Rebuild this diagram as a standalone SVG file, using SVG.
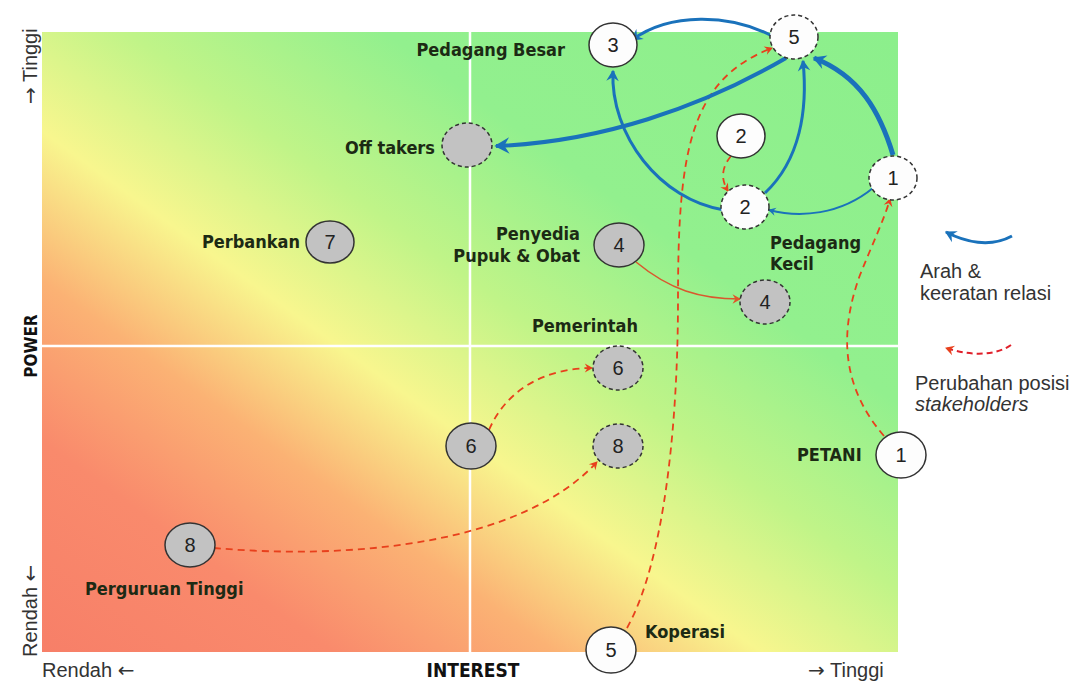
<svg xmlns="http://www.w3.org/2000/svg" width="1075" height="682" viewBox="0 0 1075 682">
<defs>
<linearGradient id="bg" x1="0" y1="1" x2="1" y2="0">
<stop offset="0" stop-color="#f77f68"/>
<stop offset="0.17" stop-color="#f98a6c"/>
<stop offset="0.3" stop-color="#fbb274"/>
<stop offset="0.42" stop-color="#f8f68e"/>
<stop offset="0.55" stop-color="#c0f488"/>
<stop offset="0.7" stop-color="#92f08e"/>
<stop offset="1" stop-color="#8cef8c"/>
</linearGradient>
<marker id="ab" viewBox="0 0 12 12" refX="9" refY="6" markerWidth="5" markerHeight="5" orient="auto" markerUnits="strokeWidth">
<path d="M1,1 L10,6 L1,11 L4,6 Z" fill="#1a72bb"/>
</marker>
<marker id="ab2" viewBox="0 0 12 12" refX="9" refY="6" markerWidth="3.5" markerHeight="3.5" orient="auto" markerUnits="strokeWidth">
<path d="M1,1 L10,6 L1,11 L4,6 Z" fill="#1a72bb"/>
</marker>
<marker id="ar" viewBox="0 0 12 12" refX="9" refY="6" markerWidth="6" markerHeight="6" orient="auto" markerUnits="strokeWidth">
<path d="M1,1 L10,6 L1,11 L4,6 Z" fill="#e8401c"/>
</marker>
<marker id="ao" viewBox="0 0 12 12" refX="9" refY="6" markerWidth="7" markerHeight="7" orient="auto" markerUnits="strokeWidth">
<path d="M1,1 L10,6 L1,11 L4,6 Z" fill="#e0552a"/>
</marker>
</defs>
<style>
.lbl{font-family:"DejaVu Sans Condensed","DejaVu Sans",sans-serif;font-stretch:condensed;font-weight:bold;font-size:18px;fill:#1c2a14}
.num{font-family:"Liberation Sans",Arial,sans-serif;font-size:20px;fill:#222;text-anchor:middle}
.ax{font-family:"Liberation Sans",Arial,sans-serif;font-size:20px;fill:#333}
.lg{font-family:"Liberation Sans",Arial,sans-serif;font-size:20px;fill:#333}
.arr{font-family:"DejaVu Sans",sans-serif}
.axb{font-family:"DejaVu Sans Condensed","DejaVu Sans",sans-serif;font-stretch:condensed;font-weight:bold;fill:#111}
.w{fill:#fdfdfd;stroke:#333;stroke-width:1.5}
.g{fill:#c2c2c2;stroke:#333;stroke-width:1.5}
.d{stroke-dasharray:4 3}
.bl{fill:none;stroke:#1a72bb}
.rd{fill:none;stroke:#e8401c;stroke-width:1.8;stroke-dasharray:7 5}
</style>
<rect x="42" y="32" width="856" height="620" fill="url(#bg)"/>
<line x1="42" y1="346" x2="898" y2="346" stroke="#fff" stroke-width="2.5"/>
<line x1="470" y1="32" x2="470" y2="652" stroke="#fff" stroke-width="2.5"/>

<g id="connectors">
<path class="rd" d="M627,628 C665,560 678,420 678,300 C678,150 690,80 772,48" marker-end="url(#ar)"/>
<path class="rd" d="M731,156 C721,168 721,180 728,191" marker-end="url(#ar)" stroke-width="1.5"/>
<path class="rd" d="M884,436 C840,385 840,330 860,275 C874,240 884,220 890,199" marker-end="url(#ar)"/>
<path d="M636,262 C670,290 700,299 740,299" fill="none" stroke="#d9582e" stroke-width="1.6" marker-end="url(#ao)"/>
<path class="rd" d="M489,430 C508,386 550,368 592,368" marker-end="url(#ar)"/>
<path class="rd" d="M214,548 C350,560 520,545 597,462" marker-end="url(#ar)"/>
<path class="bl" stroke-width="3" d="M772,36 C730,14 670,12 632,40" marker-end="url(#ab)"/>
<path class="bl" stroke-width="4" d="M786,58 C700,108 600,142 496,146" marker-end="url(#ab)"/>
<path class="bl" stroke-width="3" d="M724,210 C660,200 610,135 613,71" marker-end="url(#ab)"/>
<path class="bl" stroke-width="3" d="M765,193 C800,160 808,110 803,61" marker-end="url(#ab)"/>
<path class="bl" stroke-width="5" d="M893,155 C880,112 860,76 814,58" marker-end="url(#ab2)"/>
<path class="bl" stroke-width="2" d="M873,188 C840,215 800,218 769,210" marker-end="url(#ab)"/>
</g>

<g id="n3"><ellipse class="w" cx="613" cy="45" rx="24" ry="22"/><text class="num" x="613" y="52">3</text><text class="lbl" x="565" y="56" text-anchor="end">Pedagang Besar</text></g>
<g id="n5top"><ellipse class="w d" cx="794" cy="37" rx="24" ry="22"/><text class="num" x="794" y="44">5</text></g>
<g id="offtakers"><ellipse class="g d" cx="467" cy="145" rx="25" ry="22"/><text class="lbl" x="435" y="154" text-anchor="end">Off takers</text></g>
<g id="n2a"><ellipse class="w" cx="741" cy="136" rx="24" ry="22"/><text class="num" x="741" y="143">2</text></g>
<g id="n2b"><ellipse class="w d" cx="745" cy="207" rx="24" ry="22"/><text class="num" x="745" y="214">2</text><text class="lbl" x="770" y="249">Pedagang</text><text class="lbl" x="770" y="270">Kecil</text></g>
<g id="n1b"><ellipse class="w d" cx="893" cy="178" rx="24" ry="22"/><text class="num" x="893" y="185">1</text></g>
<g id="n7"><ellipse class="g" cx="330" cy="242" rx="24" ry="21"/><text class="num" x="330" y="249">7</text><text class="lbl" x="300" y="248" text-anchor="end">Perbankan</text></g>
<g id="n4a"><ellipse class="g" cx="619" cy="245" rx="25" ry="22"/><text class="num" x="619" y="252">4</text><text class="lbl" x="580" y="240" text-anchor="end">Penyedia</text><text class="lbl" x="580" y="262" text-anchor="end">Pupuk &amp; Obat</text></g>
<g id="n4b"><ellipse class="g d" cx="765" cy="302" rx="25" ry="22"/><text class="num" x="765" y="309">4</text></g>
<g id="n6b"><ellipse class="g d" cx="618" cy="368" rx="25" ry="22"/><text class="num" x="618" y="375">6</text><text class="lbl" x="585" y="332" text-anchor="middle">Pemerintah</text></g>
<g id="n6a"><ellipse class="g" cx="471" cy="446" rx="25" ry="23"/><text class="num" x="471" y="453">6</text></g>
<g id="n8b"><ellipse class="g d" cx="618" cy="446" rx="25" ry="22"/><text class="num" x="618" y="453">8</text></g>
<g id="n1a"><ellipse class="w" cx="901" cy="455" rx="25" ry="23"/><text class="num" x="901" y="462">1</text><text class="lbl" x="797" y="461">PETANI</text></g>
<g id="n8a"><ellipse class="g" cx="190" cy="545" rx="25" ry="22"/><text class="num" x="190" y="552">8</text><text class="lbl" x="85" y="595">Perguruan Tinggi</text></g>
<g id="n5b"><ellipse class="w" cx="611" cy="650" rx="25" ry="23"/><text class="num" x="611" y="657">5</text><text class="lbl" x="645" y="638">Koperasi</text></g>

<g id="axes">
<text class="ax" x="42" y="677">Rendah <tspan class="arr">←</tspan></text>
<text class="axb" x="473" y="677" text-anchor="middle" font-size="19">INTEREST</text>
<text class="ax" x="808" y="677"><tspan class="arr">→</tspan> Tinggi</text>
<text class="ax" transform="translate(37,104) rotate(-90)"><tspan class="arr">→</tspan> Tinggi</text>
<text class="axb" transform="translate(37,346) rotate(-90)" text-anchor="middle" font-size="17">POWER</text>
<text class="ax" transform="translate(37,657) rotate(-90)">Rendah <tspan class="arr">←</tspan></text>
</g>

<g id="legend">
<path d="M1012,236 C990,248 965,242 946,232" fill="none" stroke="#1a72bb" stroke-width="3" marker-end="url(#ab)"/>
<text class="lg" x="920" y="278">Arah &amp;</text>
<text class="lg" x="920" y="300">keeratan relasi</text>
<path d="M1011,345 C995,356 970,356 946,348" fill="none" stroke="#e0202a" stroke-width="2" stroke-dasharray="6 4" marker-end="url(#ar)"/>
<text class="lg" x="915" y="390">Perubahan posisi</text>
<text class="lg" x="915" y="411" font-style="italic">stakeholders</text>
</g>
</svg>
